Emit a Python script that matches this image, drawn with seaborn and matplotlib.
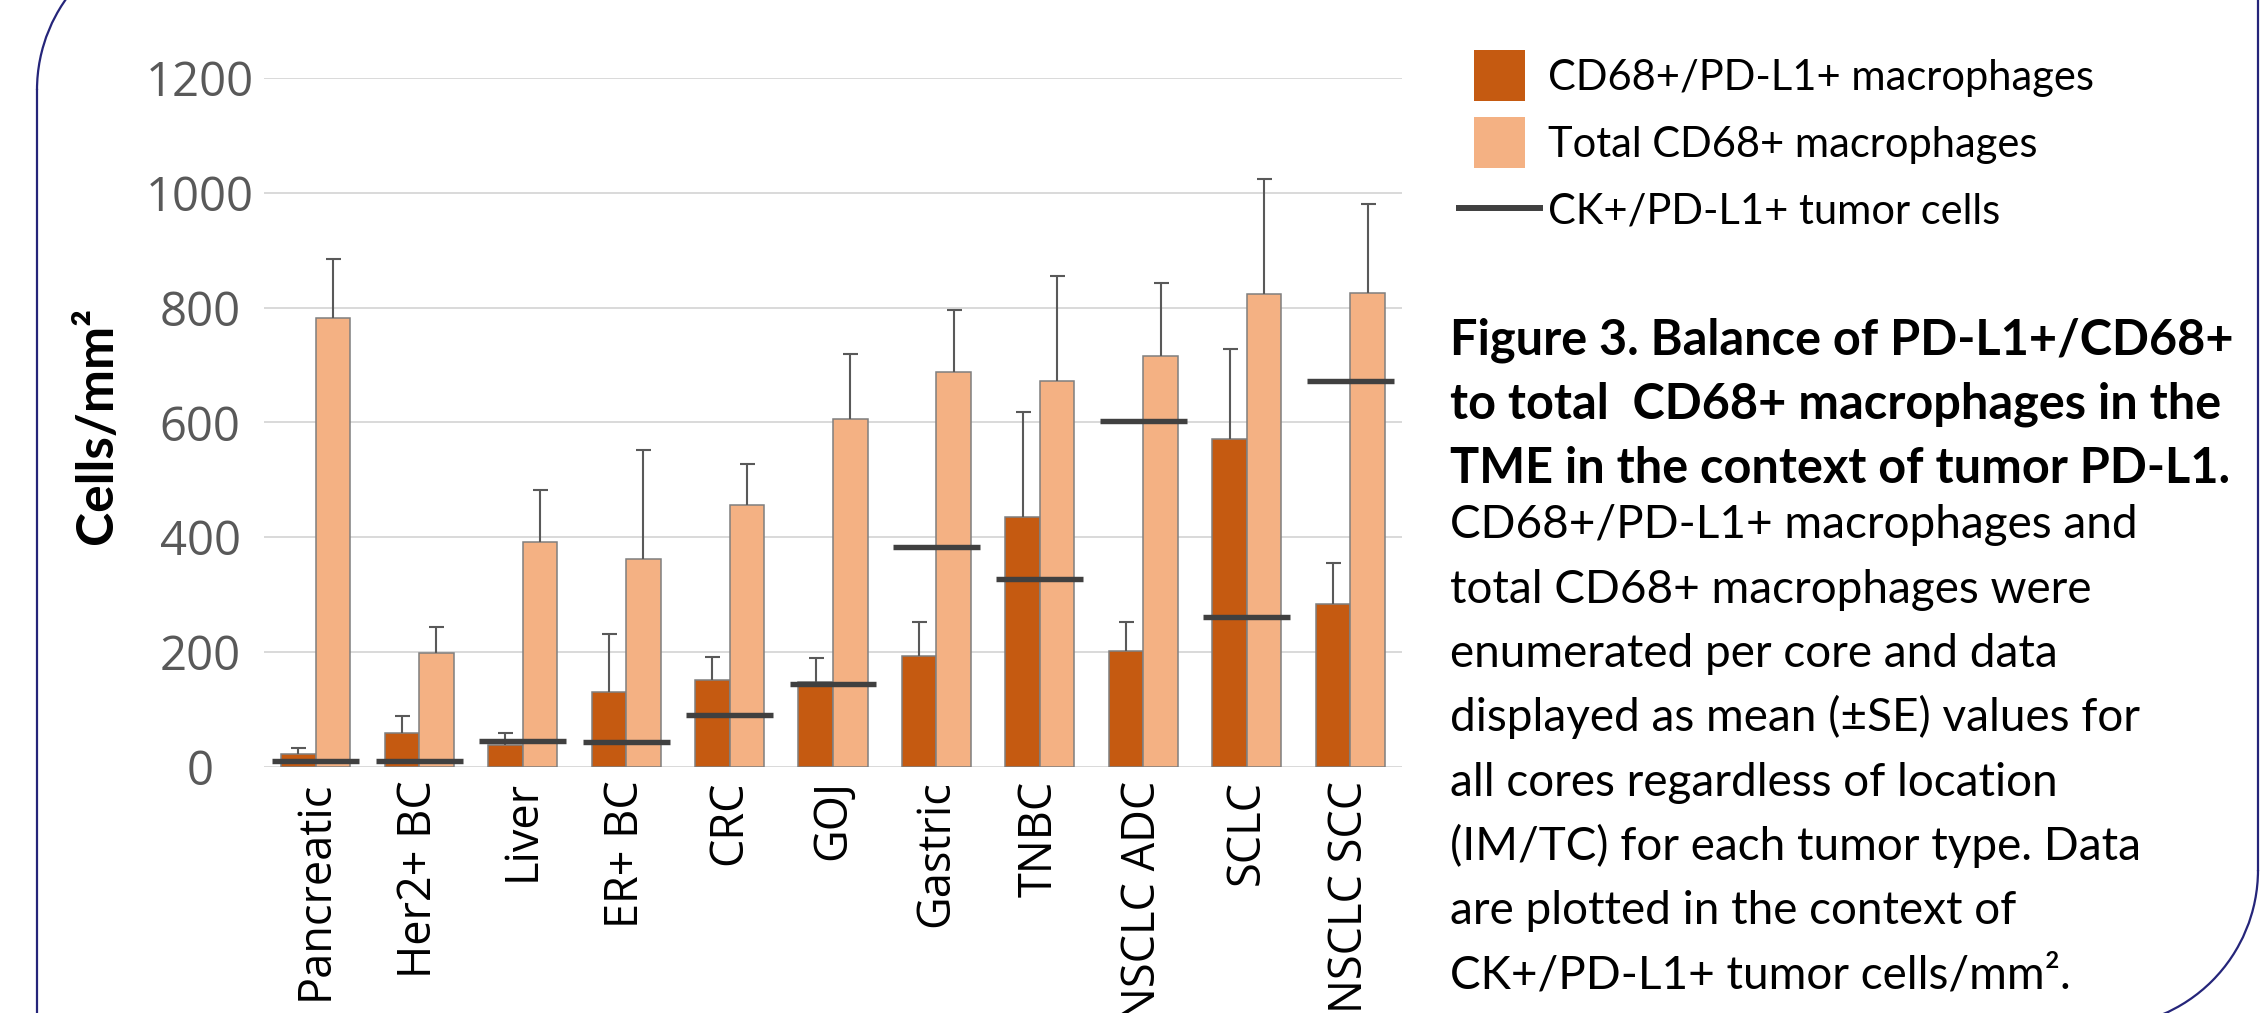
import matplotlib
matplotlib.use("Agg")
import matplotlib.pyplot as plt
from matplotlib.patches import Patch, Rectangle, Arc
from matplotlib.lines import Line2D
from matplotlib.legend_handler import HandlerPatch
import seaborn as sns
import pandas as pd
import numpy as np

# ── Data ──────────────────────────────────────────────────────────────────────
tumors = ["Pancreatic", "Her2+ BC", "Liver", "ER+ BC", "CRC", "GOJ",
          "Gastric", "TNBC", "NSCLC ADC", "SCLC", "NSCLC SCC"]
pdl1_mac = [22, 58, 38, 130, 151, 148, 192, 435, 201, 571, 283]
pdl1_se = [11, 30, 21, 101, 39, 41, 60, 183, 50, 157, 71]
total_mac = [781, 197, 391, 361, 455, 605, 687, 672, 716, 824, 826]
total_se = [104, 47, 91, 190, 73, 114, 108, 183, 126, 200, 154]
tumor_cells = [10, 9, 45, 42, 90, 144, 382, 326, 602, 260, 672]
yticks = [0, 200, 400, 600, 800, 1000, 1200]

series = ["CD68+/PD-L1+ macrophages", "Total CD68+ macrophages"]
line_label = "CK+/PD-L1+ tumor cells"

bold_lines = ["Figure 3. Balance of PD-L1+/CD68+",
              "to total  CD68+ macrophages in the",
              "TME in the context of tumor PD-L1."]
body_lines = ["CD68+/PD-L1+ macrophages and",
              "total CD68+ macrophages were",
              "enumerated per core and data",
              "displayed as mean (\u00b1SE) values for",
              "all cores regardless of location",
              "(IM/TC) for each tumor type. Data",
              "are plotted in the context of",
              "CK+/PD-L1+ tumor cells/mm\u00b2."]

DARK = "#C55A11"
LIGHT = "#F4B183"
EDGE = "#7F7F7F"
LINE = "#404040"
ERR = "#595959"
GRID = "#D9D9D9"
NAVY = "#25257A"

W, H = 2260, 1013

df = pd.DataFrame({
    "tumor": tumors * 2,
    "series": [series[0]] * len(tumors) + [series[1]] * len(tumors),
    "value": pdl1_mac + total_mac,
})

fig = plt.figure(figsize=(W / 100, H / 100), dpi=100)

# ── Border (diagonal rounded rectangle) ──────────────────────────────────────
bg = fig.add_axes([0, 0, 1, 1], zorder=0)
bg.set_xlim(0, W)
bg.set_ylim(H, 0)
bg.axis("off")
R = 157
L, Rt, T, B = 37, 2258, -67, 1027
bg.plot([L, L], [T + R, H + 5], color=NAVY, lw=1.6)
bg.plot([Rt, Rt], [-5, B - R], color=NAVY, lw=1.6)
bg.add_patch(Arc((L + R, T + R), 2 * R, 2 * R, theta1=180, theta2=270, color=NAVY, lw=1.6))
bg.add_patch(Arc((Rt - R, B - R), 2 * R, 2 * R, theta1=0, theta2=90, color=NAVY, lw=1.6))

# ── Chart ────────────────────────────────────────────────────────────────────
x0, x1 = 264, 1402
y0, y1 = 766.5, 78
ax = fig.add_axes([x0 / W, 1 - y0 / H, (x1 - x0) / W, (y0 - y1) / H], zorder=2)
ax.patch.set_alpha(0)

sns.barplot(data=df, x="tumor", y="value", hue="series",
            palette=[DARK, LIGHT], width=0.667, gap=0, errorbar=None,
            saturation=1, edgecolor=EDGE, linewidth=1.1, legend=False,
            ax=ax, zorder=2)

for cont, se in zip(ax.containers, [pdl1_se, total_se]):
    xs = [b.get_x() + b.get_width() / 2 for b in cont]
    ys = [b.get_height() for b in cont]
    eb = ax.errorbar(xs, ys, yerr=[np.zeros(len(se)), se], fmt="none",
                     ecolor=ERR, elinewidth=1.5, capsize=5.4, capthick=1.5,
                     zorder=3)
    eb.lines[1][0].set_visible(False)

xt = np.arange(len(tumors))
ax.hlines(tumor_cells, xt - 0.42, xt + 0.42, colors=LINE, lw=3.9,
          zorder=4, capstyle="butt")

ax.set_xlim(-0.5, len(tumors) - 0.5)
ax.set_ylim(0, 1200)
ax.set_yticks(yticks)
ax.yaxis.grid(True, color=GRID, lw=1.4)
ax.set_axisbelow(True)
for s in ax.spines.values():
    s.set_visible(False)
ax.set_xlabel("")
ax.set_ylabel("Cells/mm\u00b2", fontsize=37, fontweight="bold",
              family="Lato", va="center")
ax.yaxis.set_label_coords((98 - x0) / (x1 - x0), 0.496)

ax.tick_params(axis="y", length=0, pad=46, labelsize=34, labelcolor="#595959")
ax.tick_params(axis="x", length=0, pad=10, labelsize=32.5, labelcolor="black",
               rotation=90)
for t in ax.get_yticklabels():
    t.set_horizontalalignment("center")
    t.set_family("Open Sans")
for t in ax.get_xticklabels():
    t.set_family("Open Sans")

# ── Legend ───────────────────────────────────────────────────────────────────
LEG_FS = 30


def square(legend, orig_handle, xdescent, ydescent, width, height, fontsize):
    s = 36.7
    return Rectangle((-xdescent + (width - s) / 2, -ydescent + (height - s) / 2), s, s)


handles = [Patch(facecolor=DARK, edgecolor="none"),
           Patch(facecolor=LIGHT, edgecolor="none"),
           Line2D([], [], color=LINE, lw=4.3, solid_capstyle="butt")]
fig.legend(handles, series + [line_label], loc="upper left",
           bbox_to_anchor=(1456 / W, 1 - 58 / H), frameon=False,
           prop={"family": "Lato", "size": LEG_FS},
           handlelength=87 * 0.72 / LEG_FS, handleheight=0.9,
           handletextpad=0.12, labelspacing=0.68, borderpad=0,
           borderaxespad=0,
           handler_map={Patch: HandlerPatch(patch_func=square)})

# ── Caption ──────────────────────────────────────────────────────────────────
for i, line in enumerate(bold_lines):
    fig.text(1450 / W, 1 - (354 + i * 64.3) / H, line, family="Lato",
             fontweight="bold", fontsize=35, va="baseline", ha="left")
for i, line in enumerate(body_lines):
    fig.text(1450 / W, 1 - (538.3 + i * 64.3) / H, line, family="Lato",
             fontsize=33, va="baseline", ha="left")

fig.savefig("out.png", dpi=100)
